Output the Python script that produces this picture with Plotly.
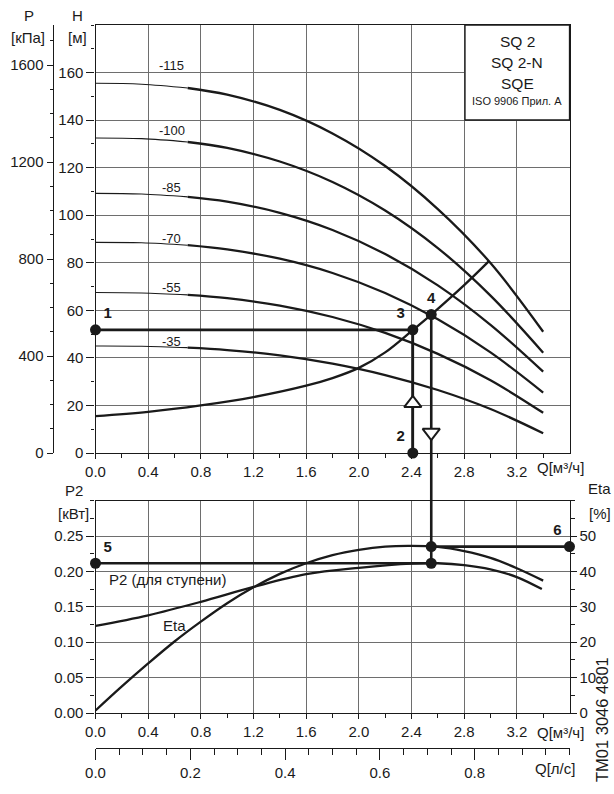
import plotly.graph_objects as go

W, H = 614, 794

# ---------------- data ----------------
# Upper panel: pump curves H [m] vs Q [m3/h]
Q_curve = [0.0, 0.35, 0.7, 1.0, 1.4, 1.8, 2.2, 2.6, 3.0, 3.4]
H_115 = [155.5, 155.1, 153.5, 150.7, 144.3, 134.4, 120.7, 102.6, 79.9, 51.0]
H_100 = [132.5, 132.2, 130.8, 128.3, 122.6, 114.0, 102.0, 86.2, 66.2, 42.2]
H_85 = [109.2, 108.9, 107.7, 105.7, 101.0, 93.8, 83.7, 70.5, 53.9, 34.2]
H_70 = [88.6, 88.4, 87.4, 85.6, 81.7, 75.7, 67.3, 56.2, 42.3, 25.4]
H_55 = [67.5, 67.3, 66.5, 65.1, 62.0, 57.2, 50.5, 41.7, 30.6, 16.9]
H_35 = [45.0, 44.9, 44.3, 43.3, 41.1, 37.6, 32.8, 26.5, 18.5, 8.3]
curve_names = ["-115", "-100", "-85", "-70", "-55", "-35"]
curve_values = [H_115, H_100, H_85, H_70, H_55, H_35]

# System curve
Q_sys = [0.0, 0.4, 0.8, 1.2, 1.6, 1.8, 2.0, 2.2, 2.41, 2.55, 2.8, 2.99]
H_sys = [15.5, 17.3, 20.0, 23.5, 28.3, 31.5, 35.8, 42.3, 51.7, 58.2, 70.6, 80.8]

# Lower panel: P2 [kW] and Eta [%] vs Q
Q_eta = [0.0, 0.2, 0.4, 0.6, 0.8, 1.0, 1.2, 1.4, 1.6, 1.8, 2.0, 2.2, 2.4, 2.6, 2.8, 3.0, 3.2, 3.4]
Eta = [0.7, 7.5, 14.0, 20.2, 25.8, 31.0, 35.5, 39.3, 42.3, 44.6, 46.1, 47.0, 47.2, 46.9, 45.7, 43.8, 40.9, 37.4]
Q_p2 = [0.0, 0.4, 0.8, 1.2, 1.6, 2.0, 2.4, 2.6, 2.8, 3.0, 3.2, 3.39]
P2 = [0.123, 0.138, 0.157, 0.178, 0.196, 0.205, 0.211, 0.2115, 0.209, 0.203, 0.192, 0.175]

# Duty points
Q_req, H_req = 2.41, 51.8      # points 1-3-2
Q_op, H_op = 2.55, 58.2        # point 4
P2_op, Eta_op = 0.2115, 47.0   # points 5 / 6

# Axis ticks
Q_ticks = [0.0, 0.4, 0.8, 1.2, 1.6, 2.0, 2.4, 2.8, 3.2]
H_ticks = [0, 20, 40, 60, 80, 100, 120, 140, 160]
P_ticks = [0, 400, 800, 1200, 1600]
P2_ticks = [0.0, 0.05, 0.10, 0.15, 0.20, 0.25]
Eta_ticks = [0, 10, 20, 30, 40, 50]
Qls_ticks = [0.0, 0.2, 0.4, 0.6, 0.8]

# ---------------- layout helpers ----------------
def px(xp):
    return xp / W

def py(yp):
    return 1 - yp / H

X_DOM = [px(95.5), px(569.5)]
Y_UP = [py(453), py(25)]
Y_LO = [py(713), py(500.6)]

FONT = "Liberation Sans, Arial, Helvetica, sans-serif"
BLACK = "#1a1a1a"
GRID = "#6e6e6e"
TF = dict(family=FONT, size=15, color=BLACK)

fig = go.Figure()

# pump curves: thin start, thick rest
for name, hv in zip(curve_names, curve_values):
    fig.add_trace(go.Scatter(x=Q_curve[:3], y=hv[:3], mode="lines", line=dict(color=BLACK, width=1.1, shape="spline"),
                             xaxis="x", yaxis="y", showlegend=False, hoverinfo="skip"))
    fig.add_trace(go.Scatter(x=Q_curve[2:], y=hv[2:], mode="lines", line=dict(color=BLACK, width=2.3, shape="spline"),
                             xaxis="x", yaxis="y", showlegend=False, name=name))

# system curve
fig.add_trace(go.Scatter(x=Q_sys, y=H_sys, mode="lines", line=dict(color=BLACK, width=2.3, shape="spline"),
                         xaxis="x", yaxis="y", showlegend=False))

# duty lines upper
fig.add_trace(go.Scatter(x=[0, Q_req], y=[H_req, H_req], mode="lines", line=dict(color=BLACK, width=2.6),
                         xaxis="x", yaxis="y", showlegend=False))
fig.add_trace(go.Scatter(x=[Q_req, Q_req], y=[0, H_req], mode="lines", line=dict(color=BLACK, width=2.6),
                         xaxis="x", yaxis="y", showlegend=False))
fig.add_trace(go.Scatter(x=[Q_op, Q_op], y=[-5, H_op], mode="lines", line=dict(color=BLACK, width=2.6),
                         xaxis="x", yaxis="y", showlegend=False))
# arrows
fig.add_trace(go.Scatter(x=[Q_req], y=[20.9], mode="markers",
                         marker=dict(symbol="triangle-up", size=15, color="white", line=dict(color=BLACK, width=2)),
                         xaxis="x", yaxis="y", showlegend=False, cliponaxis=False))
fig.add_trace(go.Scatter(x=[Q_op], y=[8.6], mode="markers",
                         marker=dict(symbol="triangle-down", size=15, color="white", line=dict(color=BLACK, width=2)),
                         xaxis="x", yaxis="y", showlegend=False, cliponaxis=False))
# dots upper
fig.add_trace(go.Scatter(x=[0, Q_req, Q_req, Q_op], y=[H_req, H_req, 0, H_op], mode="markers+text",
                         marker=dict(size=11, color=BLACK), text=["1", "3", "2", "4"],
                         textposition=["top right", "top left", "top left", "top center"],
                         textfont=dict(family=FONT, size=15, color=BLACK, weight="bold"),
                         xaxis="x", yaxis="y", showlegend=False, cliponaxis=False))
# invisible for P axis
fig.add_trace(go.Scatter(x=[0], y=[0], mode="markers", marker=dict(opacity=0), xaxis="x", yaxis="y2",
                         showlegend=False, hoverinfo="skip"))

# lower curves
fig.add_trace(go.Scatter(x=Q_p2, y=P2, mode="lines", line=dict(color=BLACK, width=2.3, shape="spline"),
                         xaxis="x2", yaxis="y3", showlegend=False))
fig.add_trace(go.Scatter(x=Q_eta, y=Eta, mode="lines", line=dict(color=BLACK, width=2.3, shape="spline"),
                         xaxis="x2", yaxis="y4", showlegend=False))
# lower duty lines
fig.add_trace(go.Scatter(x=[0, Q_op], y=[P2_op, P2_op], mode="lines", line=dict(color=BLACK, width=2.6),
                         xaxis="x2", yaxis="y3", showlegend=False))
fig.add_trace(go.Scatter(x=[Q_op, Q_op], y=[P2_op, 0.31], mode="lines", line=dict(color=BLACK, width=2.6),
                         xaxis="x2", yaxis="y3", showlegend=False))
fig.add_trace(go.Scatter(x=[Q_op, 3.6], y=[Eta_op, Eta_op], mode="lines", line=dict(color=BLACK, width=2.6),
                         xaxis="x2", yaxis="y4", showlegend=False))
fig.add_trace(go.Scatter(x=[0, Q_op], y=[P2_op, P2_op], mode="markers+text", marker=dict(size=11, color=BLACK),
                         text=["5", ""], textposition="top right",
                         textfont=dict(family=FONT, size=15, color=BLACK, weight="bold"),
                         xaxis="x2", yaxis="y3", showlegend=False, cliponaxis=False))
fig.add_trace(go.Scatter(x=[Q_op, 3.6], y=[Eta_op, Eta_op], mode="markers+text", marker=dict(size=11, color=BLACK),
                         text=["", "6"], textposition="top left",
                         textfont=dict(family=FONT, size=15, color=BLACK, weight="bold"),
                         xaxis="x2", yaxis="y4", showlegend=False, cliponaxis=False))
# invisible for l/s axis
fig.add_trace(go.Scatter(x=[0], y=[0], mode="markers", marker=dict(opacity=0), xaxis="x3", yaxis="y3",
                         showlegend=False, hoverinfo="skip"))

# connector between panels
fig.add_shape(type="line", xref="x", yref="paper", x0=Q_op, x1=Q_op, y0=Y_LO[1], y1=Y_UP[0],
              line=dict(color=BLACK, width=2.6))

# legend box
fig.add_shape(type="rect", xref="paper", yref="paper", x0=px(465), x1=px(569.5), y0=py(120), y1=Y_UP[1],
              fillcolor="white", line=dict(color=BLACK, width=1.3), layer="above")

ann = []
def A(text, xp, yp, size=15, **kw):
    ann.append(dict(text=text, x=px(xp), y=py(yp), xref="paper", yref="paper", showarrow=False,
                    xanchor="center", yanchor="middle",
                    font=dict(family=FONT, size=size, color=BLACK), **kw))

A("SQ 2", 517, 42, 15.5)
A("SQ 2-N", 517, 62, 15.5)
A("SQE", 517, 83, 15.5)
A("ISO 9906 Прил. А", 517, 101, 11)
A("P", 29, 16); A("[кПа]", 28, 38)
A("H", 77, 16); A("[м]", 77, 38)
A("P2", 74, 490); A("[кВт]", 73, 513)
A("Eta", 599, 488); A("[%]", 600, 513)
A("Q[м³/ч]", 560, 467)
A("Q[м³/ч]", 560, 732)
A("Q[л/с]", 555, 768)
A("TM01 3046 4801", 602, 720, 16.5, textangle=-90)

label_Q = 0.58
label_H = [163.1, 135.8, 111.5, 90.4, 69.8, 46.8]
for name, lh in zip(curve_names, label_H):
    ann.append(dict(text=name, x=label_Q, y=lh, xref="x", yref="y", showarrow=False,
                    xanchor="center", yanchor="middle",
                    font=dict(family=FONT, size=13, color=BLACK)))
ann.append(dict(text="P2 (для ступени)", x=0.545, y=0.188, xref="x2", yref="y3", showarrow=False,
                xanchor="center", yanchor="middle", font=dict(family=FONT, size=15, color=BLACK)))
ann.append(dict(text="Eta", x=0.6, y=0.124, xref="x2", yref="y3", showarrow=False,
                xanchor="center", yanchor="middle", font=dict(family=FONT, size=15, color=BLACK)))

common_x = dict(domain=X_DOM, range=[0, 3.6], tickvals=Q_ticks, tickformat=".1f", showgrid=True,
                gridcolor=GRID, gridwidth=1, showline=True, linecolor=BLACK, linewidth=1.3, mirror=True,
                ticks="outside", ticklen=5, tickcolor=BLACK, tickfont=TF, zeroline=False, automargin=False,
                minor=dict(tickvals=[0.2, 0.6, 1.0, 1.4, 1.8, 2.2, 2.6, 3.0, 3.4], ticklen=4, tickcolor=BLACK,
                           ticks="outside", showgrid=False))

fig.update_layout(
    width=W, height=H, margin=dict(l=0, r=0, t=0, b=0, autoexpand=False),
    paper_bgcolor="white", plot_bgcolor="white", showlegend=False,
    font=dict(family=FONT, color=BLACK),
    xaxis=dict(anchor="y", **common_x),
    yaxis=dict(domain=Y_UP, range=[0, 180], tickvals=H_ticks, showgrid=True, gridcolor=GRID, gridwidth=1,
               showline=True, linecolor=BLACK, linewidth=1.3, mirror=True, ticks="outside", ticklen=8,
               tickcolor=BLACK, tickfont=TF, zeroline=False, anchor="x", automargin=False,
               minor=dict(dtick=10, ticklen=3, tickcolor=BLACK, ticks="outside", showgrid=False)),
    yaxis2=dict(overlaying="y", anchor="free", position=px(52.7), side="left", range=[0, 180 * 9.81],
                tickvals=P_ticks, showgrid=False, showline=True, linecolor=BLACK, linewidth=1.3,
                ticks="outside", ticklen=6, tickcolor=BLACK, tickfont=TF, zeroline=False, automargin=False,
                minor=dict(dtick=100, ticklen=3, tickcolor=BLACK, ticks="outside")),
    xaxis2=dict(anchor="y3", **common_x),
    yaxis3=dict(domain=Y_LO, range=[0, 0.3], tickvals=P2_ticks, tickformat=".2f", showgrid=True,
                gridcolor=GRID, gridwidth=1, showline=True, linecolor=BLACK, linewidth=1.3, mirror=True,
                ticks="outside", ticklen=8, tickcolor=BLACK, tickfont=TF, zeroline=False, anchor="x2",
                automargin=False,
                minor=dict(dtick=0.025, ticklen=4, tickcolor=BLACK, ticks="outside", showgrid=False)),
    yaxis4=dict(overlaying="y3", anchor="x2", side="right", range=[0, 60], tickvals=Eta_ticks, showgrid=False,
                showline=False, ticks="outside", ticklen=6, tickcolor=BLACK, tickfont=TF, zeroline=False,
                automargin=False,
                minor=dict(dtick=5, ticklen=4, tickcolor=BLACK, ticks="outside")),
    xaxis3=dict(overlaying="x2", anchor="free", position=py(748), side="bottom", range=[0, 1.0],
                tickvals=Qls_ticks, tickformat=".1f", showgrid=False, showline=True, linecolor=BLACK,
                linewidth=1.3, ticks="outside", ticklen=11, tickcolor=BLACK, tickfont=TF, zeroline=False,
                automargin=False,
                minor=dict(dtick=0.05, ticklen=6, tickcolor=BLACK, ticks="outside")),
    annotations=ann,
)

fig.write_html("out.html", config={"displayModeBar": False},
               post_script="document.body.style.margin='0';")
